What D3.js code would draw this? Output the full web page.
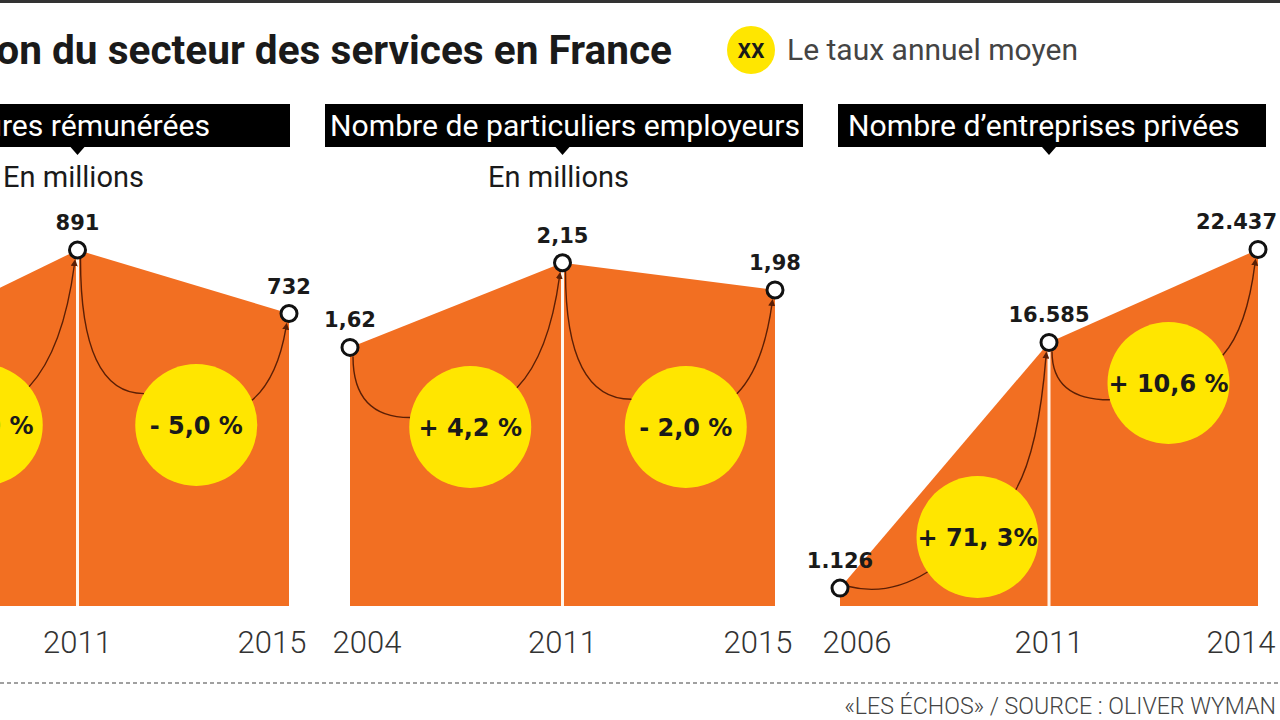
<!DOCTYPE html>
<html><head><meta charset="utf-8">
<script src="https://cdn.jsdelivr.net/npm/d3@7"></script>
<style>body{margin:0;background:#fff;} svg{display:block;}</style>
</head><body>
<script>
// ---------- DATA ----------
const chartTitle = "Évolution du secteur des services en France";
const legendLabel = "Le taux annuel moyen";
const legendSymbol = "xx";
const sourceText = "«LES ÉCHOS»  / SOURCE : OLIVER WYMAN";

const panelTitles = ["Nombre d’heures rémunérées", "Nombre de particuliers employeurs", "Nombre d’entreprises privées"];
const panelUnits = ["En millions", "En millions", ""];

const years1 = ["2004", "2011", "2015"];
const values1 = [633, 891, 732];
const rates1 = ["+ 5,0 %", "- 5,0 %"];

const years2 = ["2004", "2011", "2015"];
const values2 = [1.62, 2.15, 1.98];
const rates2 = ["+ 4,2 %", "- 2,0 %"];

const years3 = ["2006", "2011", "2014"];
const values3 = [1126, 16585, 22437];
const rates3 = ["+ 71, 3%", "+ 10,6 %"];

const yDomainMax = [891, 2.23, 22400];

// ---------- LAYOUT ----------
const W = 1280, H = 720;
const ORANGE = "#F26F22", YELLOW = "#FFE600", ARROW = "#5b1f05", INK = "#1a1a1a";
const FONT = "Roboto, 'Liberation Sans', sans-serif";
const BOLDFONT = "'DejaVu Sans', 'Liberation Sans', sans-serif";
const baseY = 606, topY = 250;
const panelRange = [[-134, 289], [350, 775], [840, 1258]];
const headerBox = [[-200, 290], [325, 803], [838, 1266]];
const bubble = [
  [{dx: 10, cy: 425, entry: -150, exit: -39}, {dx: 13, cy: 425, entry: -149, exit: -24}],
  [{dx: 14, cy: 427, entry: -171, exit: -40}, {dx: 17, cy: 427, entry: -153, exit: -33}],
  [{dx: 33, cy: 537, entry: 145, exit: -51}, {dx: 15, cy: 383, entry: 164, exit: -27}]
];
const R = 61;

const loc = d3.formatLocale({decimal: ",", thousands: ".", grouping: [3], currency: ["", "€"]});
const formats = [loc.format("d"), loc.format(".2f"), loc.format(",d")];

const panels = [
  {years: years1, values: values1, rates: rates1},
  {years: years2, values: values2, rates: rates2},
  {years: years3, values: values3, rates: rates3}
];

const svg = d3.select("body").append("svg").attr("width", W).attr("height", H)
  .style("font-family", FONT);

function fit(sel, target) {
  const w = sel.node().getComputedTextLength();
  const fs = parseFloat(sel.attr("font-size"));
  sel.attr("font-size", (fs * target / w).toFixed(2));
}

svg.append("defs").append("marker").attr("id", "ah")
  .attr("viewBox", "0 0 10 10").attr("refX", 3).attr("refY", 5)
  .attr("markerWidth", 5).attr("markerHeight", 5).attr("orient", "auto")
  .append("path").attr("d", "M0,0 L10,5 L0,10 Z").attr("fill", ARROW);

// top rule
svg.append("rect").attr("x", 0).attr("y", 0).attr("width", W).attr("height", 3).attr("fill", "#333");

// title (left part cropped off the canvas, as in the source)
const probe = svg.append("text").attr("font-size", 36).attr("font-weight", 700)
  .text("on du secteur des services en France");
fit(probe, 676);
const titleSize = probe.attr("font-size");
probe.remove();
svg.append("text").attr("x", 672).attr("y", 64).attr("text-anchor", "end")
  .attr("font-size", titleSize).attr("font-weight", 700).attr("fill", INK)
  .text(chartTitle);

// legend
svg.append("circle").attr("cx", 751).attr("cy", 50).attr("r", 24).attr("fill", YELLOW);
svg.append("text").attr("x", 751).attr("y", 58).attr("text-anchor", "middle")
  .attr("font-size", 27).attr("font-weight", 500).attr("fill", INK).text(legendSymbol);
const lg = svg.append("text").attr("x", 787).attr("y", 60).attr("font-size", 26)
  .attr("fill", "#444").text(legendLabel);
fit(lg, 291);

// header text size
const hp = svg.append("text").attr("font-size", 26).text(panelTitles[1]);
fit(hp, 470);
const headSize = hp.attr("font-size");
hp.remove();

panels.forEach((p, i) => {
  const g = svg.append("g");
  const x = d3.scalePoint().domain(p.years).range(panelRange[i]);
  const xl = d3.scalePoint().domain(p.years).range([panelRange[i][0] + 17, panelRange[i][1] - 17]);
  const y = d3.scaleLinear().domain([0, yDomainMax[i]]).range([baseY, topY]);
  const pts = p.years.map((yr, k) => ({yr, v: p.values[k], x: x(yr), y: y(p.values[k])}));
  const mid = pts[1];

  // header
  const hb = headerBox[i];
  g.append("rect").attr("x", hb[0]).attr("y", 104).attr("width", hb[1] - hb[0]).attr("height", 43).attr("fill", "#000");
  g.append("path").attr("d", `M${mid.x - 7},147 L${mid.x + 7},147 L${mid.x},155 Z`).attr("fill", "#000");
  const ht = g.append("text").attr("y", 136).attr("font-size", headSize).attr("fill", "#fff").text(panelTitles[i]);
  if (i === 0) ht.attr("x", 210).attr("text-anchor", "end");
  else ht.attr("x", hb[0] + (i === 1 ? 5 : 10));
  if (panelUnits[i]) {
    g.append("text").attr("x", mid.x - 4).attr("y", 187).attr("text-anchor", "middle")
      .attr("font-size", 29).attr("fill", INK).text(panelUnits[i]);
  }

  // area
  const area = d3.area().x(d => d.x).y0(baseY).y1(d => d.y);
  g.append("path").datum(pts).attr("d", area).attr("fill", ORANGE);
  g.append("line").attr("x1", mid.x).attr("x2", mid.x).attr("y1", mid.y).attr("y2", baseY)
    .attr("stroke", "#fff6ec").attr("stroke-width", 3);

  // year labels (only the visible ones)
  g.selectAll("text.yr").data(pts.filter(d => xl(d.yr) > 0)).join("text").attr("class", "yr")
    .attr("x", d => xl(d.yr)).attr("y", 653).attr("text-anchor", "middle")
    .attr("font-size", 31).attr("font-weight", 300).attr("fill", "#333")
    .text(d => d.yr);

  // bubbles + arrows
  for (let s = 0; s < 2; s++) {
    const A = pts[s], B = pts[s + 1], b = bubble[i][s];
    const cx = (A.x + B.x) / 2 + b.dx, cy = b.cy;
    g.append("circle").attr("cx", cx).attr("cy", cy).attr("r", R).attr("fill", YELLOW);
    const ea = b.entry * Math.PI / 180, xa = b.exit * Math.PI / 180;
    const E = [cx + R * Math.cos(ea), cy + R * Math.sin(ea)];
    const X = [cx + R * Math.cos(xa), cy + R * Math.sin(xa)];
    const dir = [E[0] - A.x, E[1] - A.y], len = Math.hypot(dir[0], dir[1]);
    const S = E[1] - A.y > 30 ? [A.x + 3, A.y + 9] : [A.x + 9 * dir[0] / len, A.y + 9 * dir[1] / len];
    const C1 = E[1] - S[1] > 30 ? [S[0], E[1]] : [(S[0] + E[0]) / 2, Math.max(S[1], E[1]) + 10];
    g.append("path").attr("d", `M${S[0]},${S[1]} Q${C1[0]},${C1[1]} ${E[0]},${E[1]}`)
      .attr("fill", "none").attr("stroke", ARROW).attr("stroke-width", 1.4);
    const Bp = [B.x - 3, B.y + 14];
    const C2 = [X[0] + 0.75 * (Bp[0] - X[0]), X[1] - 0.3 * (X[1] - Bp[1])];
    g.append("path").attr("d", `M${X[0]},${X[1]} Q${C2[0]},${C2[1]} ${Bp[0]},${Bp[1]}`)
      .attr("fill", "none").attr("stroke", ARROW).attr("stroke-width", 1.4)
      .attr("marker-end", "url(#ah)");
    g.append("text").attr("x", cx).attr("y", cy + 9).attr("text-anchor", "middle")
      .style("font-family", BOLDFONT).attr("font-size", 24).attr("font-weight", 700)
      .attr("fill", INK).text(p.rates[s]);
  }

  // points & value labels
  g.selectAll("circle.pt").data(pts).join("circle").attr("class", "pt")
    .attr("cx", d => d.x).attr("cy", d => d.y).attr("r", 8)
    .attr("fill", "#fff").attr("stroke", "#111").attr("stroke-width", 3);
  g.selectAll("text.val").data(pts.filter(d => d.x > 0)).join("text").attr("class", "val")
    .attr("x", d => d.x).attr("y", d => d.y - 20).attr("text-anchor", "middle")
    .style("font-family", BOLDFONT).attr("font-size", 21).attr("font-weight", 700).attr("fill", INK)
    .text(d => formats[i](d.v))
    .each(function() {
      const t = d3.select(this), w = this.getComputedTextLength();
      const xx = +t.attr("x");
      if (xx + w / 2 > W - 3) t.attr("x", W - 3 - w / 2);
    });
});

// footer
svg.append("line").attr("x1", 0).attr("x2", W).attr("y1", 683).attr("y2", 683)
  .attr("stroke", "#a0a0a0").attr("stroke-width", 2).attr("stroke-dasharray", "4,3");
const src = svg.append("text").attr("x", 1276).attr("y", 714).attr("text-anchor", "end")
  .attr("font-size", 19).attr("font-weight", 300).attr("fill", "#444").text(sourceText);
fit(src, 432);
</script>
</body></html>
